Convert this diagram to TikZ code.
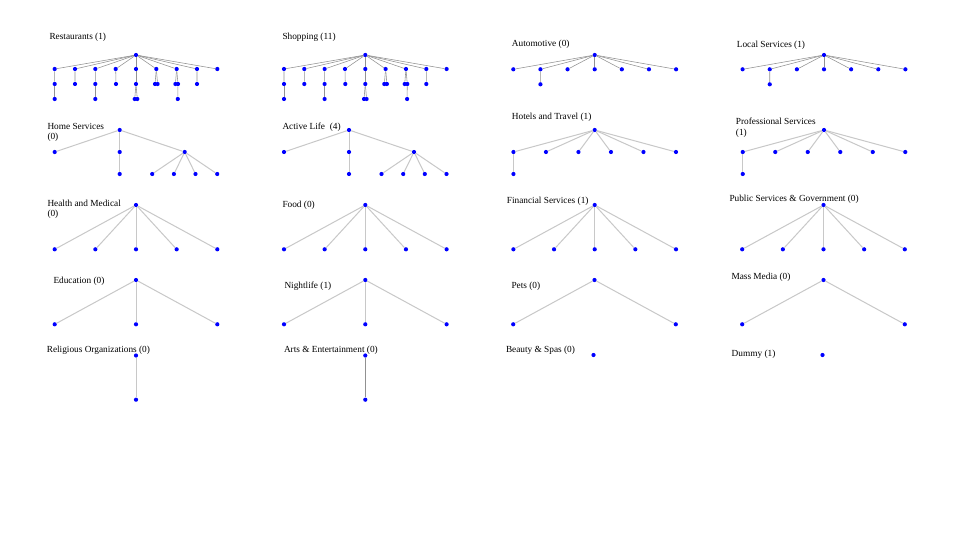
\documentclass[tikz,border=0pt]{standalone}
\usepackage{fontspec}
\setmainfont{Liberation Serif}
\definecolor{dotblue}{RGB}{0,0,255}
\definecolor{edgedarkc}{RGB}{145,145,145}
\definecolor{edgelightc}{RGB}{200,200,200}
\tikzset{
  dot/.style={circle,fill=dotblue,inner sep=0pt,minimum size=4.2pt},
  edgedark/.style={draw=edgedarkc,line width=0.55pt},
  edgelight/.style={draw=edgelightc,line width=1pt},
  lbl/.style={font=\fontsize{9.3}{10.6}\selectfont,inner sep=0pt,anchor=base west},
  lbltwo/.style={font=\fontsize{9.3}{10.6}\selectfont,inner sep=0pt,anchor=north west,align=left}
}
% Type A: Restaurants / Shopping
\newcommand\treeA[2]{%
\begin{scope}[shift={#2}]
  \node[dot] (#1-0) at (0,0) {};
  \foreach \k in {1,...,9} {\node[dot] (#1-\k) at ({(\k-5)*20.33},14) {};}
  \node[dot] (#1-a1) at (-81.3,29) {};
  \node[dot] (#1-a2) at (-61,29) {};
  \node[dot] (#1-a3) at (-40.7,29) {};
  \node[dot] (#1-a4) at (-20,29) {};
  \node[dot] (#1-a5) at (0,29) {};
  \node[dot] (#1-a6) at (19,29) {};
  \node[dot] (#1-b6) at (21.6,29) {};
  \node[dot] (#1-a7) at (39.4,29) {};
  \node[dot] (#1-b7) at (42,29) {};
  \node[dot] (#1-a8) at (61,29) {};
  \node[dot] (#1-aa1) at (-81.3,44) {};
  \node[dot] (#1-aa3) at (-40.7,44) {};
  \node[dot] (#1-aa5) at (-1.3,44) {};
  \node[dot] (#1-ab5) at (1.3,44) {};
  \node[dot] (#1-ba7) at (41.8,44) {};
  \foreach \k in {1,...,9} {\draw[edgedark] (#1-0) -- (#1-\k);}
  \foreach \k in {1,...,5} {\draw[edgedark] (#1-\k) -- (#1-a\k);}
  \draw[edgedark] (#1-6) -- (#1-a6);
  \draw[edgedark] (#1-6) -- (#1-b6);
  \draw[edgedark] (#1-7) -- (#1-a7);
  \draw[edgedark] (#1-7) -- (#1-b7);
  \draw[edgedark] (#1-8) -- (#1-a8);
  \draw[edgedark] (#1-a1) -- (#1-aa1);
  \draw[edgedark] (#1-a3) -- (#1-aa3);
  \draw[edgedark] (#1-a5) -- (#1-aa5);
  \draw[edgedark] (#1-a5) -- (#1-ab5);
  \draw[edgedark] (#1-b7) -- (#1-ba7);
\end{scope}}
% Type B: Automotive / Local Services
\newcommand\treeB[2]{%
\begin{scope}[shift={#2}]
  \node[dot] (#1-0) at (0,0) {};
  \foreach \k in {1,...,7} {\node[dot] (#1-\k) at ({(\k-4)*27.13},14.3) {};}
  \node[dot] (#1-a2) at (-54.26,29.3) {};
  \foreach \k in {1,...,7} {\draw[edgedark] (#1-0) -- (#1-\k);}
  \draw[edgedark] (#1-2) -- (#1-a2);
\end{scope}}
% Type C: Home Services / Active Life
\newcommand\treeC[2]{%
\begin{scope}[shift={#2}]
  \node[dot] (#1-0) at (0,0) {};
  \node[dot] (#1-1) at (-65,22) {};
  \node[dot] (#1-2) at (0,22) {};
  \node[dot] (#1-3) at (65,22) {};
  \node[dot] (#1-a2) at (0,44) {};
  \node[dot] (#1-a3) at (32.5,44) {};
  \node[dot] (#1-b3) at (54.2,44) {};
  \node[dot] (#1-c3) at (75.8,44) {};
  \node[dot] (#1-d3) at (97.5,44) {};
  \foreach \k in {1,2,3} {\draw[edgelight] (#1-0) -- (#1-\k);}
  \draw[edgelight] (#1-2) -- (#1-a2);
  \foreach \k in {a,b,c,d} {\draw[edgelight] (#1-3) -- (#1-\k3);}
\end{scope}}
% Type D: Hotels and Travel / Professional Services
\newcommand\treeD[2]{%
\begin{scope}[shift={#2}]
  \node[dot] (#1-0) at (0,0) {};
  \foreach \k in {1,...,6} {\node[dot] (#1-\k) at ({(\k-3.5)*32.5},22) {};}
  \node[dot] (#1-a1) at (-81.25,44) {};
  \foreach \k in {1,...,6} {\draw[edgelight] (#1-0) -- (#1-\k);}
  \draw[edgelight] (#1-1) -- (#1-a1);
\end{scope}}
% Type E: five leaves
\newcommand\treeE[2]{%
\begin{scope}[shift={#2}]
  \node[dot] (#1-0) at (0,0) {};
  \foreach \k in {1,...,5} {\node[dot] (#1-\k) at ({(\k-3)*40.65},44.3) {};}
  \foreach \k in {1,...,5} {\draw[edgelight] (#1-0) -- (#1-\k);}
\end{scope}}
% Type F: three leaves
\newcommand\treeF[2]{%
\begin{scope}[shift={#2}]
  \node[dot] (#1-0) at (0,0) {};
  \foreach \k in {1,2,3} {\node[dot] (#1-\k) at ({(\k-2)*81.3},44.3) {};}
  \foreach \k in {1,2,3} {\draw[edgelight] (#1-0) -- (#1-\k);}
\end{scope}}
% Type G: two leaves
\newcommand\treeG[2]{%
\begin{scope}[shift={#2}]
  \node[dot] (#1-0) at (0,0) {};
  \node[dot] (#1-1) at (-81.3,44.3) {};
  \node[dot] (#1-2) at (81.3,44.3) {};
  \draw[edgelight] (#1-0) -- (#1-1);
  \draw[edgelight] (#1-0) -- (#1-2);
\end{scope}}
\begin{document}
\begin{tikzpicture}[x=1pt,y=-1pt]
\useasboundingbox (0,0) rectangle (960,540);
\fill[white] (0,0) rectangle (960,540);
% Row 1
\node[lbl] (lRest) at (49.3,39.5) {Restaurants (1)};
\treeA{rest}{(136,55)}
\node[lbl] (lShop) at (282.3,39.5) {Shopping (11)};
\treeA{shop}{(365.3,55)}
\node[lbl] (lAuto) at (511.7,46.8) {Automotive (0)};
\treeB{auto}{(594.7,55)}
\node[lbl] (lLocal) at (736.7,47.8) {Local Services (1)};
\treeB{local}{(824,55)}
% Row 2
\node[lbltwo] (lHome) at (47.3,122.8) {Home Services\\(0)};
\treeC{home}{(119.7,130)}
\node[lbl] (lActive) at (282.3,129.2) {Active Life\ \ (4)};
\treeC{active}{(349,130)}
\node[lbl] (lHotel) at (511.7,119.2) {Hotels and Travel (1)};
\treeD{hotel}{(594.7,130)}
\node[lbltwo] (lProf) at (735.7,117.8) {Professional Services\\(1)};
\treeD{prof}{(824,130)}
% Row 3
\node[lbltwo] (lHealth) at (47.3,199.4) {Health and Medical\\(0)};
\treeE{health}{(136,205)}
\node[lbl] (lFood) at (282.3,207.5) {Food (0)};
\treeE{food}{(365.3,205)}
\node[lbl] (lFin) at (506.7,203.8) {Financial Services (1)};
\treeE{fin}{(594.7,205)}
\node[lbl] (lPub) at (729.3,201.2) {Public Services \& Government (0)};
\treeE{pub}{(823.5,205)}
% Row 4
\node[lbl] (lEdu) at (53.3,283.2) {Education (0)};
\treeF{edu}{(136,280)}
\node[lbl] (lNight) at (284.3,288.5) {Nightlife (1)};
\treeF{night}{(365.3,280)}
\node[lbl] (lPets) at (511.3,288.5) {Pets (0)};
\treeG{pets}{(594.5,280)}
\node[lbl] (lMass) at (731.3,279.5) {Mass Media (0)};
\treeG{mass}{(823.5,280)}
% Row 5
\node[lbl] (lRel) at (46.6,352.5) {Religious Organizations (0)};
\node[dot] (rel-0) at (136,355.5) {};
\node[dot] (rel-1) at (136,399.7) {};
\draw[edgelight] (rel-0) -- (rel-1);
\node[lbl] (lArts) at (283.8,352.5) {Arts \& Entertainment (0)};
\node[dot] (arts-0) at (365.3,355.5) {};
\node[dot] (arts-1) at (365.3,399.7) {};
\draw[edgedark] (arts-0) -- (arts-1);
\node[lbl] (lBeauty) at (505.8,352.5) {Beauty \& Spas (0)};
\node[dot] (beauty-0) at (593.5,355) {};
\node[lbl] (lDummy) at (731.5,356.2) {Dummy (1)};
\node[dot] (dummy-0) at (822.5,355) {};
\end{tikzpicture}
\end{document}
